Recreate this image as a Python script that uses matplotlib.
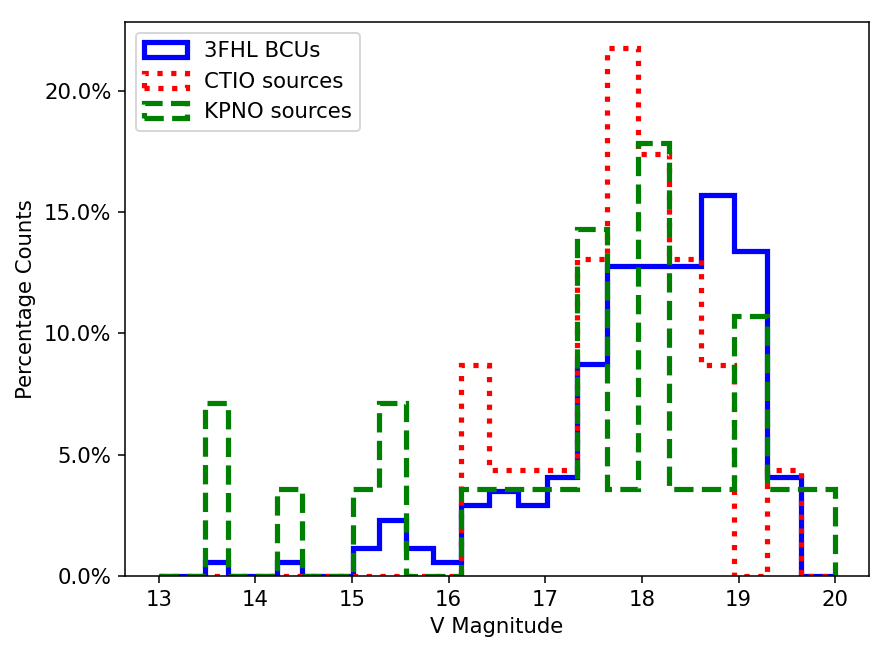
import numpy as np
import matplotlib
matplotlib.use('Agg')
import matplotlib.pyplot as plt
from matplotlib.ticker import PercentFormatter

# log-spaced magnitude bins, 13 -> 20
bin_edges = np.logspace(np.log10(13), np.log10(20), 25)

# counts per bin
bcu_counts = [0, 0, 1, 0, 0, 1, 0, 0, 2, 4, 2, 1,
              5, 6, 5, 7, 15, 22, 22, 22, 27, 23, 7, 0]
ctio_counts = [0, 0, 0, 0, 0, 0, 0, 0, 0, 0, 0, 0,
               2, 1, 1, 1, 3, 5, 4, 3, 2, 0, 1, 0]
kpno_counts = [0, 0, 2, 0, 0, 1, 0, 0, 1, 2, 0, 0,
               1, 1, 1, 1, 4, 1, 5, 1, 1, 3, 1, 1]
# sample sizes (KPNO has one source outside the plotted range)
bcu_total = 172
ctio_total = 23
kpno_total = 28

x_ticks = [13, 14, 15, 16, 17, 18, 19, 20]
y_ticks = [0, 5, 10, 15, 20]


def to_pct(counts, total):
    return np.array(counts, dtype=float) / total * 100


plt.rcParams['font.size'] = 11

dpi = 139
fig = plt.figure(figsize=(890 / dpi, 657 / dpi), dpi=dpi)
ax = fig.add_axes([125 / 890, 1 - 576 / 657, (869 - 125) / 890, (576 - 22) / 657])

centers = 0.5 * (bin_edges[:-1] + bin_edges[1:])
ax.hist(centers, bins=bin_edges, weights=to_pct(bcu_counts, bcu_total), histtype='step',
        color='blue', linewidth=2.7, linestyle='-', label='3FHL BCUs')
ax.hist(centers, bins=bin_edges, weights=to_pct(ctio_counts, ctio_total), histtype='step',
        color='red', linewidth=2.7, linestyle=':', label='CTIO sources')
ax.hist(centers, bins=bin_edges, weights=to_pct(kpno_counts, kpno_total), histtype='step',
        color='green', linewidth=2.7, linestyle='--', label='KPNO sources')

ax.set_xticks(x_ticks)
ax.set_yticks(y_ticks)
ax.yaxis.set_major_formatter(PercentFormatter(decimals=1))
ax.set_xlabel('V Magnitude')
ax.set_ylabel('Percentage Counts')
ax.legend(loc='upper left')

fig.savefig('out.png', dpi=dpi)
